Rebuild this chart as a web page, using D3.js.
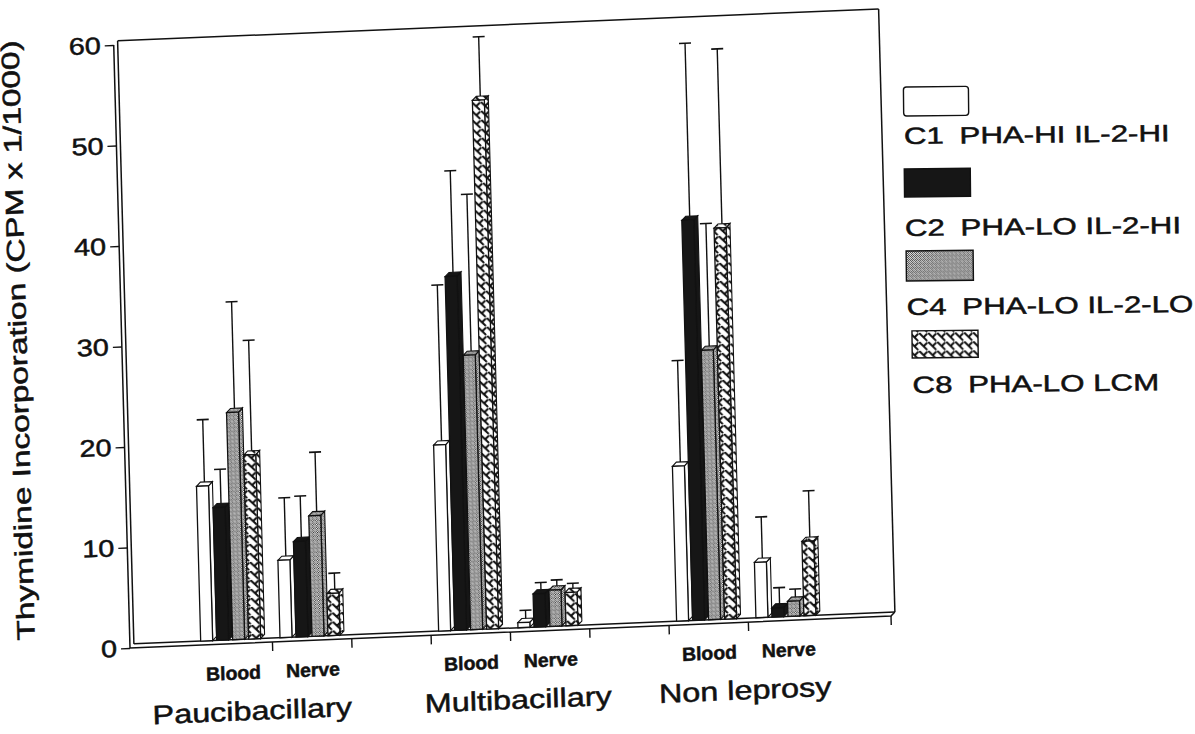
<!DOCTYPE html>
<html>
<head>
<meta charset="utf-8">
<script src="https://cdn.jsdelivr.net/npm/d3@7"></script>
<style>
  html, body { margin: 0; padding: 0; background: #fff; }
  svg { display: block; }
  text { font-family: "Liberation Sans", Arial, Helvetica, sans-serif; fill: #111; stroke: #111; stroke-width: 0.5px; }
</style>
</head>
<body>
<svg id="chart" width="1195" height="734"></svg>
<script>
// ---- data ----
const groups = ["Paucibacillary", "Multibacillary", "Non leprosy"];
const tissues = ["Blood", "Nerve"];
const seriesNames = ["C1", "C2", "C4", "C8"];
const seriesLabels = ["C1\u2002PHA-HI IL-2-HI", "C2\u2002PHA-LO IL-2-HI", "C4\u2002PHA-LO IL-2-LO", "C8\u2002PHA-LO LCM"];

// order of entries: Pauci-Blood, Pauci-Nerve, Multi-Blood, Multi-Nerve, NonLep-Blood, NonLep-Nerve
const c1Values = [15.4, 7.7, 18.5, 0.5, 15.4, 5.5];
const c2Values = [13.2, 9.5, 35.2, 3.3, 39.8, 0.9];
const c4Values = [22.6, 12.0, 27.3, 3.6, 26.8, 1.5];
const c8Values = [18.3, 4.2, 52.6, 3.3, 38.9, 7.4];

const c1Errors = [6.6, 6.2, 15.9, 1.2, 10.5, 4.5];
const c2Errors = [3.8, 4.5, 10.5, 1.1, 17.6, 2.0];
const c4Errors = [11.0, 6.3, 16.0, 1.0, 12.6, 1.2];
const c8Errors = [11.4, 2.0, 6.3, 0.9, 17.8, 5.0];

const yTicks = [0, 10, 20, 30, 40, 50, 60];
const yTitle = "Thymidine Incorporation (CPM x 1/1000)";

const valuesBySeries = [c1Values, c2Values, c4Values, c8Values];
const errorsBySeries = [c1Errors, c2Errors, c4Errors, c8Errors];

// one record per drawn bar
const bars = [];
groups.forEach((g, gi) => tissues.forEach((t, ti) => seriesNames.forEach((s, si) => {
  const k = gi * tissues.length + ti;
  bars.push({ group: g, tissue: t, series: s, si, value: valuesBySeries[si][k], err: errorsBySeries[si][k] });
})));

// ---- layout ----
const svg = d3.select("#chart");
const X0 = 131, X1 = 895;     // floor extent
const D = 4;                  // 3-D depth offset

const x = d3.scaleBand().domain(groups).range([X0, X1])
  .paddingInner(1 / 3).paddingOuter(0.272).align(0.48);
const xt = d3.scaleBand().domain(tissues).range([0, x.bandwidth()]);
const xs = d3.scaleBand().domain(seriesNames).range([-32, 32]);
const y = d3.scaleLinear().domain([0, 60]).range([648, 45]);

const faceW = xs.bandwidth() - D;

function stretch(sel, k) {
  sel.each(function () {
    const w = this.getComputedTextLength();
    d3.select(this).attr("textLength", w * k).attr("lengthAdjust", "spacingAndGlyphs");
  });
}

// ---- fill patterns ----
const defs = svg.append("defs");
const stip = defs.append("pattern").attr("id", "stipple")
  .attr("patternUnits", "userSpaceOnUse").attr("width", 4).attr("height", 4);
stip.append("rect").attr("width", 4).attr("height", 4).attr("fill", "#fff");
[[0,0],[2,0],[1,1],[3,1],[0,2],[2,2],[3,3],[1,3]].forEach(([px, py], i) => {
  stip.append("rect").attr("x", px).attr("y", py).attr("width", 1).attr("height", 1)
    .attr("fill", i % 3 === 2 ? "#555" : "#222");
});

const weave = defs.append("pattern").attr("id", "weave")
  .attr("patternUnits", "userSpaceOnUse").attr("width", 9).attr("height", 9);
weave.append("rect").attr("width", 9).attr("height", 9).attr("fill", "#fff");
weave.append("path").attr("d", "M0.8,0.8 L7.6,7.6 M7.8,1.2 L4.4,4.4")
  .attr("fill", "none").attr("stroke", "#111").attr("stroke-width", 2).attr("stroke-linecap", "round");

const fills = { C1: "#fff", C2: "#161616", C4: "url(#stipple)", C8: "url(#weave)" };

// ---- plot (scanned page sits slightly rotated) ----
const plot = svg.append("g")
  .attr("transform", "translate(131,648) matrix(1,-0.042,0.027,1,0,0) translate(-131,-648)");

const frame = plot.append("g").attr("fill", "none").attr("stroke", "#111").attr("stroke-width", 1.5);
const yBack0 = y(0) - D, yTop = y(60) - D;
frame.append("line").attr("x1", X0 - 1).attr("x2", X0 - 1).attr("y1", y(60)).attr("y2", y(0));
frame.append("line").attr("x1", X0 - 1 + D).attr("x2", X0 - 1 + D).attr("y1", yTop).attr("y2", yBack0);
frame.append("line").attr("x1", X0 - 1 + D).attr("x2", X1).attr("y1", yTop).attr("y2", yTop);
frame.append("line").attr("x1", X1).attr("x2", X1).attr("y1", yTop).attr("y2", yBack0);
frame.append("line").attr("x1", X0 - 1 + D).attr("x2", X1).attr("y1", yBack0).attr("y2", yBack0);
frame.append("path").attr("d", `M${X0 - 1},${y(0)} L${X1 - D},${y(0)} L${X1},${yBack0}`);

// y axis ticks and labels
const yAxis = plot.append("g").attr("transform", `translate(${X0 - 1},0)`)
  .call(d3.axisLeft(y).tickValues(yTicks).tickSize(9).tickPadding(4).tickFormat(d3.format("d")));
yAxis.select(".domain").remove();
yAxis.selectAll(".tick line").attr("stroke", "#111").attr("stroke-width", 1.4);
yAxis.selectAll(".tick text").attr("font-size", 24).attr("fill", "#111")
  .style("font-family", "\"Liberation Sans\", Arial, sans-serif");
stretch(yAxis.selectAll(".tick text"), 1.2);

// x axis ticks at category boundaries
const xBounds = [];
groups.forEach((g, gi) => {
  if (gi > 0) xBounds.push(x(g));
  xBounds.push(x(g) + xt.bandwidth());
  if (gi < groups.length - 1) xBounds.push(x(g) + x.bandwidth());
});
xBounds.push(X1 - D);
plot.append("g").selectAll("line").data(xBounds).join("line")
  .attr("x1", d => d).attr("x2", d => d).attr("y1", y(0)).attr("y2", y(0) + 9)
  .attr("stroke", "#111").attr("stroke-width", 1.4);

// bars with front, side and top faces
const barX = d => x(d.group) + xt(d.tissue) + xt.bandwidth() / 2 + xs(d.series);
const barG = plot.append("g").selectAll("g").data(bars).join("g");
barG.each(function (d) {
  const g = d3.select(this);
  const bx = barX(d), yt = y(d.value) - D, yb = yBack0, w = faceW;
  const fill = fills[d.series];
  g.append("path").attr("d", `M${bx + w},${yb} L${bx + w},${yt} L${bx + w + D},${yt - D} L${bx + w + D},${yb - D} Z`)
    .attr("fill", fill).attr("stroke", "#111").attr("stroke-width", 1.1);
  g.append("path").attr("d", `M${bx},${yt} L${bx + D},${yt - D} L${bx + w + D},${yt - D} L${bx + w},${yt} Z`)
    .attr("fill", fill).attr("stroke", "#111").attr("stroke-width", 1.1);
  g.append("rect").attr("x", bx).attr("y", yt).attr("width", w).attr("height", yb - yt)
    .attr("fill", fill).attr("stroke", "#111").attr("stroke-width", 1.3);
  // error bar
  const ex = bx + (w + D) / 2, ey = y(d.value + d.err) - D;
  g.append("line").attr("x1", ex).attr("x2", ex).attr("y1", yt - D).attr("y2", ey)
    .attr("stroke", "#111").attr("stroke-width", 1.4);
  g.append("line").attr("x1", ex - 6).attr("x2", ex + 6).attr("y1", ey).attr("y2", ey)
    .attr("stroke", "#111").attr("stroke-width", 1.6);
});

// category labels
const tissueLabels = [];
groups.forEach(g => tissues.forEach(t => tissueLabels.push({ g, t })));
const tl = plot.append("g").selectAll("text").data(tissueLabels).join("text")
  .attr("x", d => x(d.g) + xt(d.t) + xt.bandwidth() / 2)
  .attr("y", 684).attr("text-anchor", "middle").attr("font-size", 19).attr("font-weight", "bold")
  .text(d => d.t);
stretch(tl, 1.02);

const groupShift = [-22, 6, -5];
const gl = plot.append("g").selectAll("text").data(groups).join("text")
  .attr("x", (d, i) => x(d) + x.bandwidth() / 2 + groupShift[i])
  .attr("y", 725).attr("text-anchor", "middle").attr("font-size", 26.5)
  .text(d => d);
stretch(gl, 1.22);

// y axis title
const yt = plot.append("text")
  .attr("transform", "translate(35,336) rotate(-90)")
  .attr("text-anchor", "middle").attr("font-size", 25)
  .text(yTitle);
yt.attr("textLength", 600).attr("lengthAdjust", "spacingAndGlyphs");

// ---- legend ----
const legend = svg.append("g").attr("transform", "rotate(-0.6, 905, 240)");
const swatches = [
  { x: 905, y: 87, w: 65, h: 29 },
  { x: 905, y: 169, w: 66, h: 28 },
  { x: 906, y: 251, w: 67, h: 30 },
  { x: 911, y: 331, w: 66, h: 27 }
];
const textBase = [144, 236, 315, 393];
const li = legend.selectAll("g").data(seriesNames).join("g");
li.append("rect")
  .attr("x", (d, i) => swatches[i].x).attr("y", (d, i) => swatches[i].y)
  .attr("width", (d, i) => swatches[i].w).attr("height", (d, i) => swatches[i].h)
  .attr("rx", (d, i) => i === 0 ? 3 : 0)
  .attr("fill", d => fills[d]).attr("stroke", "#111").attr("stroke-width", 1.4);
const lt = li.append("text")
  .attr("x", (d, i) => swatches[i].x).attr("y", (d, i) => textBase[i])
  .attr("font-size", 23.5)
  .text((d, i) => seriesLabels[i]);
stretch(lt, 1.33);
</script>
</body>
</html>
